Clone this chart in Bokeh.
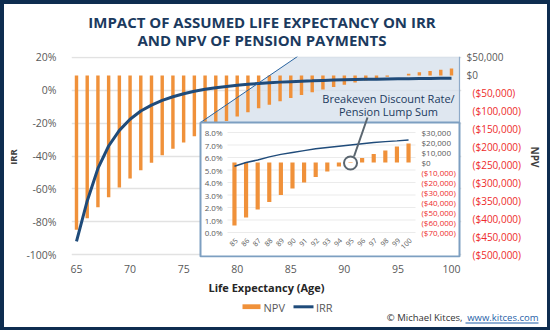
from math import pi
from bokeh.plotting import figure
from bokeh.models import Range1d, LinearAxis, FixedTicker, NumeralTickFormatter
from bokeh.core.properties import value
from bokeh.embed import file_html
from bokeh.resources import INLINE

# ---------------- data ----------------
ages = list(range(65, 101))
irr_pct = [-92.0, -67.4, -47.6, -33.9, -24.4, -17.6, -12.6, -9.0, -6.1, -3.9,
           -2.1, -0.6, 0.6, 1.6, 2.4, 3.1, 3.7, 4.2, 4.6, 5.0,
           5.3, 5.6, 5.8, 6.05, 6.25, 6.4, 6.55, 6.7, 6.8, 6.9,
           7.0, 7.1, 7.2, 7.27, 7.33, 7.4]
npv = [-431000, -399000, -368000, -340000, -313000, -288000, -265000, -244000,
       -223000, -205000, -187000, -170000, -155000, -141000, -127000, -115000,
       -103000, -92000, -82000, -72000,
       -63000, -55000, -47000, -39500, -32500, -26000, -20000, -14500,
       -9000, -4000, -500, 4500, 8500, 12000, 16000, 19000]
x_ticks = [65, 70, 75, 80, 85, 90, 95, 100]
irr_ticks_pct = [-100, -80, -60, -40, -20, 0, 20]
npv_ticks = [50000, 0, -50000, -100000, -150000, -200000, -250000,
             -300000, -350000, -400000, -450000, -500000]
inset_from_age = 85
inset_irr_ticks_pct = [0, 1, 2, 3, 4, 5, 6, 7, 8]
inset_npv_ticks = [30000, 20000, 10000, 0, -10000, -20000, -30000,
                   -40000, -50000, -60000, -70000]
breakeven_age = 95
series_names = ["NPV", "IRR"]

title_lines = ["IMPACT OF ASSUMED LIFE EXPECTANCY ON IRR", "AND NPV OF PENSION PAYMENTS"]
note_lines = ["Breakeven Discount Rate/", "Pension Lump Sum"]
credit_name = "\u00a9 Michael Kitces,"
credit_url = "www.kitces.com"

# ---------------- styles ----------------
FONT = "Open Sans"
NAVY = "#1b3a5e"
ORANGE = "#f0913a"
LINEC = "#1f4b7a"
GRAY = "#595959"
RED = "#ee2b2b"
BORDER = "#0e2d50"
LINK = "#1f5fa8"

def money(v):
    return f"${v:,.0f}" if v >= 0 else f"(${-v:,.0f})"

irr = [v / 100 for v in irr_pct]

# main frame geometry (pixels) and ranges
FL, FR, FT, FB = 71, 461, 56, 257
XS, XE = 64.5333, 100.9333
YS, YE = -1.01827, 0.20609
A_NPV, B_NPV = 550000 / 1.2, 50000 - 0.2 * 550000 / 1.2
NS, NE = A_NPV * YS + B_NPV, A_NPV * YE + B_NPV

def X(px):
    return XS + (px - FL) * (XE - XS) / (FR - FL)

def Y(py):
    return YE - (py - FT) * (YE - YS) / (FB - FT)

p = figure(width=550, height=330, x_range=Range1d(XS, XE), y_range=Range1d(YS, YE),
           output_backend="svg", toolbar_location=None,
           min_border_left=FL, min_border_right=550 - FR,
           min_border_top=FT, min_border_bottom=330 - FB)
p.outline_line_color = None
p.background_fill_color = "white"
p.border_fill_color = "white"
p.extra_y_ranges = {"npv": Range1d(NS, NE)}

xa = p.xaxis[0]
xa.ticker = FixedTicker(ticks=x_ticks)
xa.axis_label = "Life Expectancy (Age)"
ya = p.yaxis[0]
ya.ticker = FixedTicker(ticks=[t / 100 for t in irr_ticks_pct])
ya.formatter = NumeralTickFormatter(format="0%")
ya.axis_label = "IRR"
ra = LinearAxis(y_range_name="npv", ticker=FixedTicker(ticks=npv_ticks),
                major_label_overrides={float(t): (money(t) if t < 0 else "") for t in npv_ticks},
                axis_label="NPV")
p.add_layout(ra, "right")
for ax in (xa, ya, ra):
    ax.axis_line_color = None
    ax.major_tick_line_color = None
    ax.minor_tick_line_color = None
    ax.major_label_text_font = FONT
    ax.major_label_text_font_size = "10.5px"
    ax.major_label_text_color = GRAY
    ax.axis_label_text_font = FONT
    ax.axis_label_text_font_style = "bold"
    ax.axis_label_text_color = "#404040"
xa.major_label_standoff = 1
xa.axis_label_text_font_size = "11px"
xa.axis_label_text_color = "#262626"
xa.axis_label_standoff = 4
ya.major_label_standoff = 9
ya.axis_label_text_font_size = "9.5px"
ya.axis_label_standoff = 3
ra.major_label_standoff = 5
ra.major_label_text_font_size = "10px"
ra.major_label_text_color = RED
ra.axis_label_text_font_size = "10px"
ra.axis_label_standoff = 4

p.xgrid.visible = False
p.ygrid.grid_line_color = "#e2e2e2"
p.ygrid.grid_line_width = 1.3

# zoom highlight region
p.patch(x=[X(297), X(459), X(459), X(200)], y=[YE, YE, Y(122), Y(122)],
        fill_color="#d7e1ec", fill_alpha=0.8, line_color=None)

bars = p.vbar(x=ages, top=npv, bottom=0, width=0.32, y_range_name="npv",
              fill_color=ORANGE, line_color=None)
irr_line = p.line(ages, irr, line_color=LINEC, line_width=3)

p.segment(x0=[X(200)], y0=[Y(122)], x1=[X(297)], y1=[YE], line_color="#2a64a0", line_width=1)
p.segment(x0=[X(459)], y0=[YE], x1=[X(459)], y1=[Y(122)], line_color="#8eaac8", line_width=1.2)

# inset panel
p.quad(left=[X(200)], right=[X(459)], top=[Y(122)], bottom=[Y(256)],
       fill_color="white", line_color="#7d9fc1", line_width=2)

i0 = ages.index(inset_from_age)
in_ages = ages[i0:]
in_irr = irr[i0:]
in_npv = npv[i0:]
src_x = (84.4, 100.6)
sub_irr = p.subplot(x_source=Range1d(*src_x), y_source=Range1d(0, 0.08),
                    x_target=Range1d(X(227), X(415)), y_target=Range1d(Y(232), Y(132)))
sub_npv = p.subplot(x_source=Range1d(*src_x), y_source=Range1d(-70000, 30000),
                    x_target=Range1d(X(227), X(415)), y_target=Range1d(Y(232), Y(132)))

g = [t / 100 for t in inset_irr_ticks_pct]
sub_irr.segment(x0=[src_x[0]] * len(g), x1=[src_x[1]] * len(g), y0=g, y1=g,
                line_color="#ebebeb", line_width=1)
sub_npv.vbar(x=in_ages, top=in_npv, bottom=0, width=0.36, fill_color=ORANGE, line_color=None)
sub_irr.line(in_ages, in_irr, line_color=LINEC, line_width=1.5)

sub_irr.text(x=[src_x[0]] * len(g), y=g, text=[f"{t:.1f}%" for t in inset_irr_ticks_pct],
             x_offset=-5, text_align="right", text_baseline="middle",
             text_font=value(FONT), text_font_size="8px", text_color=GRAY)
sub_npv.text(x=[src_x[1]] * len(inset_npv_ticks), y=inset_npv_ticks,
             text=[money(t) for t in inset_npv_ticks],
             x_offset=6, text_align="left", text_baseline="middle",
             text_font=value(FONT), text_font_size="8px",
             text_color=[GRAY if t >= 0 else RED for t in inset_npv_ticks])
sub_irr.text(x=in_ages, y=[0] * len(in_ages), text=[str(a) for a in in_ages],
             angle=pi / 4, x_offset=2, y_offset=7, text_align="right", text_baseline="middle",
             text_font=value(FONT), text_font_size="7px", text_color=GRAY)

bi = ages.index(breakeven_age)
sub_npv.scatter(x=[breakeven_age], y=[npv[bi]], size=13, marker="circle",
                fill_color=None, line_color="#5b6670", line_width=2)

p.segment(x0=[X(367)], y0=[Y(117)], x1=[X(353.5)], y1=[Y(156)], line_color="#5b6670", line_width=2)
p.text(x=[X(388), X(388)], y=[Y(98), Y(110.5)], text=note_lines,
       text_align="center", text_baseline="middle", text_font=value(FONT),
       text_font_size="11px", text_color=NAVY)

# ---- elements outside the frame (overlay level, not clipped) ----
OV = dict(level="overlay")
p.text(x=[X(261.5)] * 2, y=[Y(21.5), Y(39)], text=title_lines, text_align="center",
       text_baseline="middle", text_font=value(FONT), text_font_size="15px",
       text_font_style="bold", text_color=NAVY, **OV)
pos_ticks = [t for t in npv_ticks if t >= 0]
p.text(x=[XE] * len(pos_ticks), y=pos_ticks, y_range_name="npv", x_offset=5,
       text=[money(t) for t in pos_ticks], text_align="left", text_baseline="middle",
       text_font=value(FONT), text_font_size="10px", text_color=GRAY, **OV)

# legend
p.quad(left=[X(242)], right=[X(260)], top=[Y(303.8)], bottom=[Y(308.6)],
       fill_color=ORANGE, line_color=None, **OV)
p.segment(x0=[X(293)], y0=[Y(306.3)], x1=[X(313)], y1=[Y(306.3)], line_color=LINEC,
          line_width=3, **OV)
p.text(x=[X(263), X(315.5)], y=[Y(306.5)] * 2, text=series_names, text_align="left",
       text_baseline="middle", text_font=value(FONT), text_font_size="11px",
       text_color=GRAY, **OV)

# credit
p.text(x=[X(538)], y=[Y(317)], text=[credit_url], text_align="right", text_baseline="middle",
       text_font=value(FONT), text_font_size="9.5px", text_color=LINK, **OV)
p.text(x=[X(462)], y=[Y(317)], text=[credit_name], text_align="right", text_baseline="middle",
       text_font=value(FONT), text_font_size="9.5px", text_color="#333333", **OV)
p.segment(x0=[X(465)], y0=[Y(322.5)], x1=[X(538)], y1=[Y(322.5)], line_color=LINK,
          line_width=1, **OV)

# outer border
p.quad(left=[X(0)], right=[X(550)], top=[Y(0)], bottom=[Y(330)], fill_alpha=0,
       line_color=BORDER, line_width=7, **OV)

open("out.html", "w").write(file_html(p, INLINE))
